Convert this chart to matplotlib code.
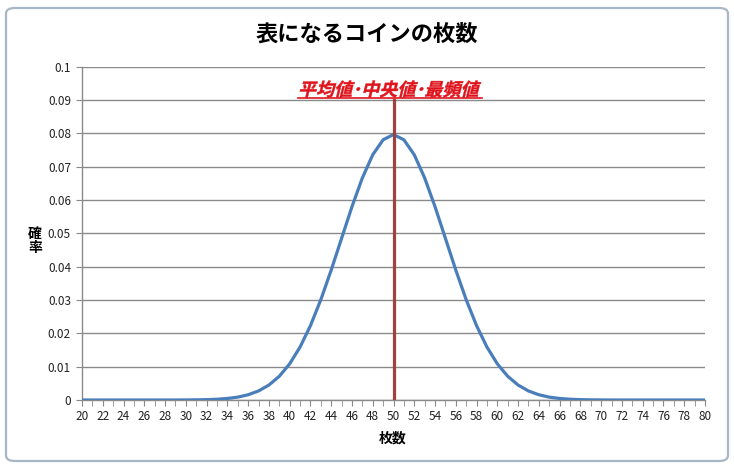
import numpy as np
import matplotlib
matplotlib.use("Agg")
import matplotlib.pyplot as plt
from matplotlib.patches import FancyBboxPatch, PathPatch
from matplotlib.textpath import TextPath
from matplotlib.font_manager import FontProperties
from matplotlib.transforms import Affine2D, IdentityTransform
from matplotlib.lines import Line2D

plt.rcParams['font.family'] = ['Noto Sans CJK JP', 'DejaVu Sans']

# coins showing heads (20..80) and probability
coins = list(range(20, 81))
prob = [0.0000, 0.0000, 0.0000, 0.0000, 0.0000, 0.0000, 0.0000, 0.0000, 0.0000, 0.0000,
        0.00002, 0.00005, 0.00011, 0.00023, 0.00046, 0.00086, 0.00157, 0.00271, 0.00448, 0.00711,
        0.01084, 0.01587, 0.02229, 0.03007, 0.03895, 0.04847, 0.05796, 0.06659, 0.07353, 0.07803,
        0.07959,
        0.07803, 0.07353, 0.06659, 0.05796, 0.04847, 0.03895, 0.03007, 0.02229, 0.01587, 0.01084,
        0.00711, 0.00448, 0.00271, 0.00157, 0.00086, 0.00046, 0.00023, 0.00011, 0.00005, 0.00002,
        0.0000, 0.0000, 0.0000, 0.0000, 0.0000, 0.0000, 0.0000, 0.0000, 0.0000, 0.0000]
mean_x = 50
mean_top = 0.09
yticks = [0, 0.01, 0.02, 0.03, 0.04, 0.05, 0.06, 0.07, 0.08, 0.09, 0.1]
ytick_labels = ['0', '0.01', '0.02', '0.03', '0.04', '0.05', '0.06', '0.07', '0.08', '0.09', '0.1']
xticks_lab = list(range(20, 81, 2))

fig = plt.figure(figsize=(7.34, 4.69), dpi=100)
fig.patch.set_facecolor('white')

# chart area border (rounded, like the Excel chart frame)
frame = FancyBboxPatch((6 / 734, 8 / 469), 722 / 734, 453 / 469,
                       boxstyle="round,pad=0,rounding_size=0.012",
                       transform=fig.transFigure, facecolor='none',
                       edgecolor='#A9B6C6', lw=1.6, zorder=-1)
fig.patches.append(frame)

ax = fig.add_axes([82 / 734, 1 - 400 / 469, 623 / 734, (400 - 66.5) / 469])
ax.set_facecolor('none')

ax.plot(coins, prob, color='#4A7EBB', lw=2.3, solid_joinstyle='round', zorder=3)
ax.plot([mean_x, mean_x], [0, mean_top], color='#A3403F', lw=2.3, zorder=4)

ax.set_xlim(20, 80)
ax.set_ylim(0, 0.1)
ax.set_yticks(yticks)
ax.set_yticklabels(ytick_labels)
ax.set_xticks(xticks_lab)
ax.set_xticklabels([str(v) for v in xticks_lab])
ax.set_xticks(coins, minor=True)
ax.grid(axis='y', color='#8A8A8A', lw=1.0)
ax.set_axisbelow(True)

for s in ['top', 'right']:
    ax.spines[s].set_visible(False)
for s in ['left', 'bottom']:
    ax.spines[s].set_color('#8A8A8A')
    ax.spines[s].set_linewidth(1.0)

ax.tick_params(axis='y', length=4, color='#8A8A8A', labelsize=8.5, pad=4, labelcolor='#222222')
ax.tick_params(axis='x', which='both', length=4, color='#8A8A8A', labelsize=8.5, pad=3.5,
               labelcolor='#222222', direction='out')

fig.text(367 / 734, 1 - 34 / 469, '表になるコインの枚数', ha='center', va='center',
         fontsize=16, fontweight='bold', color='black')
fig.text(393 / 734, 1 - 438 / 469, '枚数', ha='center', va='center',
         fontsize=10, fontweight='bold')
fig.text(35 / 734, 1 - 241 / 469, '確\n率', ha='center', va='center',
         fontsize=10, fontweight='bold', linespacing=1.0)

# italic bold red label with underline
label = '平均値･中央値･最頻値'
prop = FontProperties(family='Noto Sans CJK JP', weight='bold')
size_pt = 13
tp = TextPath((0, 0), label, size=size_pt, prop=prop)
ext = tp.get_extents()
px = 100 / 72
w = ext.width * px
cx, cy = 390, 469 - 89
tr = (Affine2D().translate(-ext.x0 - ext.width / 2, -ext.y0 - ext.height / 2)
      .skew_deg(14, 0).scale(px).translate(cx, cy))
fig.patches.append(PathPatch(tr.transform_path(tp), facecolor='#E0141C', edgecolor='#E0141C',
                             lw=0.3, transform=IdentityTransform(), zorder=5))
uy = 469 - 97.5
fig.lines.append(Line2D([cx - w / 2 - 2, cx + w / 2 + 2], [uy, uy], color='#E0141C', lw=1.2,
                        transform=IdentityTransform(), zorder=5))

fig.savefig('out.png', dpi=100)
